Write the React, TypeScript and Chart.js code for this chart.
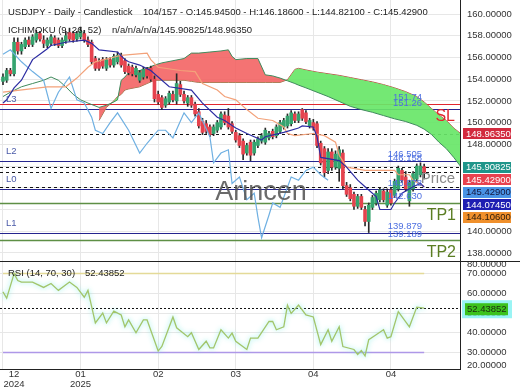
import React, { useEffect, useRef } from 'react';
import { Chart, registerables } from 'chart.js';

Chart.register(...registerables);

const FONT = '"Liberation Sans", Arial, Helvetica, sans-serif';

// ---- OHLC (one per daily bar) ----
const opens = [
  153.8,153.9,154.8,154.5,157.4,156.6,157.0,157.6,157.2,157.6,
  158.2,157.6,157.1,157.3,157.8,157.6,157.1,157.5,158.3,158.2,
  157.7,157.9,158.2,157.6,157.4,155.9,155.6,155.8,155.0,155.8,
  155.3,155.6,156.2,155.7,155.2,155.1,154.4,153.9,154.2,154.9,
  155.0,154.0,152.6,152.3,151.6,151.9,152.6,152.0,153.5,152.6,
  151.8,152.3,151.7,151.0,150.1,149.9,149.6,149.0,149.3,149.6,
  150.7,150.6,149.9,149.1,148.8,148.3,147.2,148.2,147.2,147.9,
  148.3,148.2,148.6,149.2,148.8,149.2,149.6,149.7,149.9,150.8,
  150.2,151.2,150.9,149.7,150.0,149.9,148.1,147.6,145.6,147.3,
  145.9,145.8,147.2,144.2,144.0,143.4,142.3,143.2,142.0,140.9,
  142.2,142.6,142.9,143.7,142.4,143.8,143.3,143.9,145.6,145.0,
  142.8,143.9,144.8,145.2,145.945,
];
const highs = [
  154.5,155.0,155.0,157.8,157.8,157.4,157.8,157.9,158.1,158.5,
  158.4,158.0,157.8,158.1,158.0,157.8,157.8,158.4,158.7,158.4,
  158.4,158.8,158.5,157.9,157.6,156.1,155.9,156.0,156.0,156.0,
  156.3,156.5,156.4,155.9,155.4,155.3,155.2,154.8,155.1,155.1,
  155.2,154.3,152.9,152.5,152.4,152.9,152.9,154.5,153.8,152.9,
  152.5,152.5,151.9,151.3,150.4,150.2,149.8,149.8,150.2,151.0,
  151.0,151.3,150.1,149.3,149.0,148.5,148.1,148.4,148.4,148.7,
  149.0,149.5,149.2,149.4,149.8,150.2,150.4,150.8,151.1,151.0,
  151.0,151.3,151.1,150.4,150.3,150.1,148.3,147.8,147.6,147.6,
  147.4,147.8,147.5,144.5,144.3,143.6,143.4,143.4,142.3,142.6,
  143.3,143.7,144.0,143.9,143.9,144.0,144.8,146.0,145.8,145.5,
  144.7,145.5,146.2,146.3,146.186,
];
const lows = [
  153.5,153.7,154.3,154.3,156.3,156.3,156.8,157.0,157.0,157.4,
  157.5,156.9,156.9,157.1,157.1,156.9,156.9,157.3,157.5,157.4,
  157.5,157.7,157.4,157.0,155.4,154.8,154.8,155.0,154.8,155.1,
  155.1,155.4,155.1,154.5,154.4,154.3,154.2,153.7,154.0,154.1,
  153.8,151.9,151.7,151.2,151.4,151.7,151.9,151.7,152.4,151.8,
  151.5,151.4,150.6,149.5,148.9,149.0,148.7,148.8,149.1,149.4,
  149.8,149.4,149.0,148.2,147.7,146.6,147.0,146.5,147.0,147.7,
  148.1,148.0,148.4,148.5,148.6,149.0,149.4,149.5,149.7,150.0,
  150.0,150.2,149.9,149.5,149.3,147.7,146.1,145.0,145.3,145.6,
  145.7,144.6,143.9,143.2,142.8,142.0,142.1,142.0,140.5,139.88,
  142.0,142.4,142.7,142.7,142.2,142.4,143.1,143.7,144.5,143.7,
  142.3,143.7,144.6,145.0,144.821,
];
const closes = [
  154.2,154.8,154.5,157.4,156.6,157.2,157.6,157.2,157.9,158.2,
  157.7,157.3,157.6,157.9,157.3,157.1,157.6,158.0,157.7,157.6,
  158.2,158.4,157.6,157.2,155.6,155.0,155.0,155.2,155.8,155.3,
  156.1,156.2,155.3,154.7,154.6,154.5,155.0,154.6,154.9,154.3,
  154.0,152.2,151.9,151.4,152.2,152.7,152.1,153.6,152.6,152.0,
  152.3,151.6,150.8,149.7,149.1,149.2,148.9,149.6,150.0,150.8,
  150.0,149.6,149.2,148.4,147.9,147.1,147.9,147.0,148.2,148.5,
  148.8,149.3,149.0,148.7,149.6,150.0,150.2,150.6,150.9,150.2,
  150.8,150.4,150.1,150.2,149.5,147.9,146.3,145.4,147.3,145.9,
  147.1,147.5,144.2,143.4,143.0,142.3,143.2,142.2,140.9,142.4,
  143.1,143.5,143.8,142.9,143.6,142.6,144.6,145.8,144.7,143.9,
  144.5,145.3,146.0,146.0,145.429,
];

// ---- Ichimoku lines, read as [bar, value] ----
const tenkan = [
  [0,151.8],[1,152.1],[3,153.2],[5,153.9],[8,155.8],[10,156.3],[12,156.8],[13,157.1],
  [17,157.4],[22,157.6],[24,157.3],[26,156.7],[31,156.5],[33,155.8],[34,155.6],[37,155.3],
  [40,154.8],[45,153.3],[51,153.0],[54,151.8],[58,150.5],[60,150.2],[63,149.5],[66,149.0],
  [70,148.4],[71,148.7],[76,149.1],[80,149.5],[81,149.7],[84,149.6],[85,148.7],[86,146.8],
  [91,146.5],[93,145.9],[96,144.7],[98,144.1],[101,143.2],[102,142.0],[105,142.0],[106,142.6],
  [108,143.5],[111,144.1],[113,144.4],[114,144.0745],
];
const kijun = [
  [0,152.8],[12,153.3],[17,153.3],[20,154.1],[23,155.1],[25,155.6],[32,156.2],[39,156.4],
  [40,155.8],[42,155.1],[48,154.8],[52,154.7],[54,153.6],[58,153.0],[60,152.4],[63,152.1],
  [66,151.2],[69,150.4],[73,150.2],[76,149.6],[77,149.0],[79,148.8],[84,149.0],[87,148.8],
  [90,148.2],[91,147.0],[93,145.9],[98,145.6],[106,145.6],[107,145.2],[110,145.2],[111,144.7],
  [114,144.106],
];
const lagging = [
  [0,156.3],[2,156.7],[5,155.6],[8,154.7],[11,153.9],[13,151.3],[15,152.8],[18,154.2],
  [20,152.1],[22,151.8],[24,150.5],[25,149.3],[27,149.0],[29,150.0],[31,150.9],[34,149.3],
  [37,147.2],[39,148.1],[42,149.3],[44,149.3],[46,148.6],[49,150.9],[51,150.0],[53,150.9],
  [56,148.7],[57,146.3],[59,147.2],[61,147.5],[62,144.4],[64,145.0],[66,142.9],[68,143.5],
  [69,141.3],[70,139.4],[72,141.5],[73,142.6],[75,142.2],[78,145.0],[80,144.7],[82,145.6],
  [84,145.9],[86,145.2],[88,144.7],
];
const cloudBars = [
  0,2,5,8,11,13,15,17,19,21,23,26,28,30,31,32,33,34,37,39,41,43,46,49,51,53,56,59,61,62,63,66,
  69,71,73,75,77,79,80,82,85,88,91,94,97,100,103,106,109,112,114,116,118,120,122,124,
];
const spanA = [
  152.4,152.8,153.3,153.6,153.9,154.2,153.9,153.3,152.6,152.1,151.8,151.4,151.6,151.9,152.1,153.9,
  154.2,154.6,154.8,155.0,155.3,155.5,155.7,155.9,156.4,156.4,156.5,156.6,156.7,156.1,155.8,155.9,
  155.9,154.4,154.3,154.1,153.85,153.6,153.45,153.2,152.8,152.4,151.95,151.5,151.2,150.95,150.65,150.35,
  150.1,149.75,149.4,148.9,148.2,147.6,146.8,145.90825,
];
const spanB = [
  null,null,null,null,null,null,null,null,null,null,null,150.2,151.4,152.0,152.4,152.6,
  153.0,153.1,153.3,153.6,153.9,153.9,153.9,153.9,153.8,153.7,153.7,153.7,153.7,153.7,153.7,153.7,
  153.7,153.7,153.7,153.7,153.95,154.9,155.0,154.85,154.65,154.5,154.35,154.15,153.95,153.75,153.5,153.2,
  152.85,152.4,151.9,151.3,150.7,150.2,149.5,148.9635,
];

// ---- RSI (14), read as [bar, value] ----
const rsi = [
  [0,60.7],[1,57.5],[3,70],[4,66.5],[5,65.7],[8,65.7],[11,63],[13,65],[15,61.5],[18,65.7],
  [20,63],[22,58],[23,61.5],[25,45],[27,50],[28,45],[30,51],[32,49],[33,43],[34,46.5],
  [36,40],[38,46.5],[39,46.5],[42,30.7],[43,33],[46,48],[47,42.5],[50,38],[51,40],[53,31.5],
  [55,35.7],[56,32.3],[57,32.3],[59,41.5],[61,37.3],[62,39.8],[63,35.7],[66,31.5],[67,37.3],
  [69,37.3],[72,45.7],[73,45.7],[74,41.5],[76,43],[77,54],[78,49.8],[80,54],[82,49],[84,48],
  [86,34],[88,41.5],[89,35.7],[91,43],[92,33],[95,31.5],[96,29],[97,31],[98,28.2],[99,36.5],
  [101,39],[103,41.5],[104,37.3],[105,38],[107,50.7],[110,43],[112,53],[114,52.43852],
];
const rsiBands = [70, 30];
const rsiNow = 52.43852;

// ---- levels ----
const slLevel = 151.74;
const lLevels = [151.26, 146.505, 143.878, 139.879];
const lNames = ['L3', 'L2', 'L0', 'L1'];
const tpLevels = [142.63, 139.189];
const tpNames = ['TP1', 'TP2'];
const currentLevels = [148.9635, 145.90825, 145.429, 144.106];
const levelTags = [151.74, 151.26, 146.505, 146.158, 143.878, 142.63, 139.879, 139.189];
const levelTagText = ['151.74', '151.26', '146.505', '146.158', '143.878', '142.630', '139.879', '139.189'];

// ---- axes ----
const priceTicks = [138, 140, 142, 144, 146, 148, 150, 152, 154, 156, 158, 160];
const hiddenPriceTicks = [142, 144, 146];
const rsiTicks = [30, 40, 50, 60, 70];
const xTickBars = [0, 21, 42, 63, 84, 105];
const xTickLabels = [['12', '2024'], ['01', '2025'], ['02'], ['03'], ['04'], ['04']];
const boxValues = [148.9635, 145.90825, 145.429, 145.429, 144.0745, 144.106];
const boxBg = ['#d22a3e', '#1f958a', '#e8424f', '#4a94e6', '#1e1eb2', '#f0902c'];
const boxFg = ['#ffffff', '#ffffff', '#ffffff', '#14143a', '#ffffff', '#2a1a0a'];

const UP = '#35a46f';
const DOWN = '#e5434e';

const overlay = {
  id: 'overlay',
  beforeDatasetsDraw(chart: any) {
    const { ctx, chartArea: ca } = chart;
    const y = chart.scales.y;
    const yr = chart.scales.yr;
    const hline = (p: number, color: string, dash: number[], w = 1, x1 = ca.right) => {
      const py = Math.round(p) + 0.5;
      ctx.save();
      ctx.strokeStyle = color;
      ctx.lineWidth = w;
      ctx.setLineDash(dash);
      ctx.beginPath();
      ctx.moveTo(ca.left, py);
      ctx.lineTo(x1, py);
      ctx.stroke();
      ctx.restore();
    };
    tpLevels.forEach((v) => hline(y.getPixelForValue(v), '#5e8f45', [], 1.3));
    lLevels.forEach((v) => hline(y.getPixelForValue(v), '#25258e', [], 1.2));
    hline(y.getPixelForValue(slLevel), '#e2262f', [], 1.2);
    currentLevels.forEach((v) => hline(y.getPixelForValue(v), '#111111', [3, 3]));
    hline(yr.getPixelForValue(rsiNow), '#111111', [2, 2]);
  },
  beforeDatasetDraw(chart: any, args: any) {
    if (args.index === 7) {
      chart.ctx.save();
      chart.ctx.shadowColor = 'rgba(110,235,225,0.9)';
      chart.ctx.shadowBlur = 5;
    }
  },
  afterDatasetDraw(chart: any, args: any) {
    if (args.index === 7) {
      chart.ctx.restore();
    }
  },
  afterDraw(chart: any) {
    const { ctx, chartArea: ca } = chart;
    const y = chart.scales.y;
    const yr = chart.scales.yr;
    const x = chart.scales.x;
    ctx.save();
    ctx.strokeStyle = '#222';
    ctx.lineWidth = 1;
    ctx.beginPath();
    ctx.moveTo(0, Math.round(y.bottom) + 0.5);
    ctx.lineTo(chart.width, Math.round(y.bottom) + 0.5);
    ctx.stroke();

    const f = (s: number) => `${s}px ${FONT}`;
    ctx.textBaseline = 'middle';

    ctx.font = f(9.5);
    ctx.fillStyle = '#4d6fe0';
    ctx.textAlign = 'right';
    levelTags.forEach((v, i) => {
      ctx.fillText(levelTagText[i], 422, y.getPixelForValue(v) - 6);
    });
    ctx.textAlign = 'left';
    ctx.fillStyle = '#4a5aa8';
    lLevels.forEach((v, i) => ctx.fillText(lNames[i], 6, y.getPixelForValue(v) - 9.5));

    ctx.textAlign = 'right';
    ctx.font = f(16);
    ctx.fillStyle = '#e2262f';
    ctx.fillText('SL', 455, y.getPixelForValue(slLevel) + 13);
    ctx.fillStyle = '#5a7d22';
    tpLevels.forEach((v, i) => ctx.fillText(tpNames[i], 456, y.getPixelForValue(v) + 12.5));
    ctx.font = f(15);
    ctx.fillStyle = '#8a8a8a';
    ctx.fillText('Price', 455, 179);

    ctx.textAlign = 'center';
    ctx.font = f(27);
    ctx.fillStyle = 'rgba(80,80,80,0.85)';
    ctx.fillText('Arincen', 261, 193);

    ctx.textAlign = 'left';
    ctx.font = f(9.5);
    ctx.fillStyle = '#222';
    ctx.fillText('USDJPY - Daily - Candlestick', 8, 12.5);
    ctx.fillText('104/157 - O:145.94500 - H:146.18600 - L:144.82100 - C:145.42900', 143, 12.5);
    ctx.fillText('ICHIMOKU (9, 26, 52)', 8, 30);
    ctx.fillText('n/a/n/a/n/a/145.90825/148.96350', 112, 30);
    ctx.fillText('RSI (14, 70, 30)', 8, 273);
    ctx.fillText('52.43852', 85, 273);

    ctx.fillStyle = '#333';
    ctx.textAlign = 'center';
    xTickBars.forEach((b, i) => {
      const px = i === 0 ? Math.max(x.getPixelForValue(b), 14) : x.getPixelForValue(b);
      xTickLabels[i].forEach((t, j) => ctx.fillText(t, px, 374.5 + j * 10));
    });

    ctx.textAlign = 'left';
    ctx.save();
    ctx.beginPath();
    ctx.rect(ca.right + 1, y.bottom + 1, 60, 20);
    ctx.clip();
    ctx.fillText('80.00000', 467, 264);
    ctx.restore();
    ctx.fillText('20.00000', 467, 365);

    let prev = -Infinity;
    boxValues.forEach((v, i) => {
      let cy = y.getPixelForValue(v);
      if (i > 0) cy = Math.max(cy, prev + 12.5);
      prev = cy;
      ctx.fillStyle = boxBg[i];
      ctx.fillRect(ca.right + 3, Math.round(cy - 5.5), 48, 11);
      ctx.fillStyle = boxFg[i];
      ctx.fillText(v.toFixed(5), ca.right + 6, cy + 0.5);
    });
    const ry = yr.getPixelForValue(rsiNow) + 1;
    ctx.fillStyle = 'rgba(120,240,240,0.75)';
    ctx.fillRect(ca.right + 2, ry - 9, 50, 18);
    ctx.fillStyle = '#3cc21c';
    ctx.fillRect(ca.right + 5, ry - 6, 43, 12);
    ctx.fillStyle = '#1a2a10';
    ctx.fillText(rsiNow.toFixed(5), ca.right + 7, ry + 0.5);
    ctx.restore();
  },
};

export default function App() {
  const ref = useRef<HTMLCanvasElement>(null);
  useEffect(() => {
    const canvas = ref.current;
    if (!canvas) return;
    const bars = closes.map((_, i) => i);
    const bodyData = bars.map((i) => ({ x: i, y: [Math.min(opens[i], closes[i]), Math.max(opens[i], closes[i])] }));
    const wickData = bars.map((i) => ({ x: i, y: [lows[i], highs[i]] }));
    const bodyColors = bars.map((i) => (closes[i] >= opens[i] ? UP : DOWN));
    const pts = (a: number[][]) => a.map(([b, v]) => ({ x: b, y: v }));
    const last = closes.length - 1;

    const chart = new Chart(canvas, {
      type: 'bar',
      data: {
        datasets: [
          { type: 'line', data: pts(tenkan), borderColor: '#2c2ca2', borderWidth: 1.2, pointRadius: 0, order: 1, yAxisID: 'y' } as any,
          { type: 'line', data: pts(kijun), borderColor: '#f3a27a', borderWidth: 1.2, pointRadius: 0, order: 1, yAxisID: 'y' } as any,
          { type: 'line', data: pts(lagging), borderColor: '#6fb0e2', borderWidth: 1.2, pointRadius: 0, order: 1, yAxisID: 'y' } as any,
          { type: 'bar', data: bodyData, backgroundColor: bodyColors, borderWidth: 0, barThickness: 3, grouped: false, order: 2, yAxisID: 'y' } as any,
          { type: 'bar', data: wickData, backgroundColor: '#2a2a2a', borderWidth: 0, barThickness: 1, grouped: false, order: 3, yAxisID: 'y' } as any,
          {
            type: 'line', data: cloudBars.map((b, i) => ({ x: b, y: spanA[i] })), borderColor: '#3f8a5c', borderWidth: 1,
            pointRadius: 0, order: 4, yAxisID: 'y',
            fill: { target: 6, above: 'rgba(242,96,96,0.88)', below: 'rgba(104,230,104,0.92)' },
          } as any,
          { type: 'line', data: cloudBars.map((b, i) => ({ x: b, y: spanB[i] })), borderColor: '#b0584a', borderWidth: 1, pointRadius: 0, order: 4, yAxisID: 'y', spanGaps: false } as any,
          { type: 'line', data: pts(rsi), borderColor: '#a2c56a', borderWidth: 1.3, pointRadius: 0, order: 1, yAxisID: 'yr' } as any,
          { type: 'line', data: [{ x: 0, y: rsiBands[0] }, { x: last, y: rsiBands[0] }], borderColor: '#e4da98', borderWidth: 1.5, pointRadius: 0, order: 5, yAxisID: 'yr' } as any,
          { type: 'line', data: [{ x: 0, y: rsiBands[1] }, { x: last, y: rsiBands[1] }], borderColor: '#ae98e8', borderWidth: 1.5, pointRadius: 0, order: 5, yAxisID: 'yr' } as any,
        ],
      },
      options: {
        responsive: false,
        animation: false,
        devicePixelRatio: 1,
        events: [],
        layout: { padding: 0 },
        plugins: { legend: { display: false }, tooltip: { enabled: false } },
        scales: {
          x: {
            type: 'linear', min: -0.81, max: 123.7, offset: false,
            grid: { color: '#e7e7e7', drawTicks: false, offset: false },
            border: { display: true, color: '#222' },
            ticks: { display: false },
            afterBuildTicks: (s: any) => { s.ticks = xTickBars.map((v) => ({ value: v })); },
            afterFit: (s: any) => { s.height = 21; s.paddingLeft = 0; s.paddingRight = 0; },
          },
          y: {
            type: 'linear', position: 'right', stack: 'panes', stackWeight: 261,
            min: 137.26, max: 161.29, beginAtZero: false,
            grid: { color: '#e7e7e7', drawTicks: false },
            border: { display: true, color: '#222' },
            ticks: {
              autoSkip: false, padding: 7, color: '#333', font: { family: FONT, size: 9.5 },
              callback: (v: any) => (hiddenPriceTicks.includes(Number(v)) ? '' : Number(v).toFixed(5)),
            },
            afterBuildTicks: (s: any) => { s.ticks = priceTicks.map((v) => ({ value: v })); },
            afterFit: (s: any) => { s.width = 60; s.paddingTop = 0; s.paddingBottom = 0; },
          },
          yr: {
            type: 'linear', position: 'right', stack: 'panes', stackWeight: 108,
            min: 21.6, max: 76.4, beginAtZero: false,
            grid: { color: '#e7e7e7', drawTicks: false },
            border: { display: true, color: '#222' },
            ticks: {
              autoSkip: false, padding: 7, color: '#333', font: { family: FONT, size: 9.5 },
              callback: (v: any) => Number(v).toFixed(5),
            },
            afterBuildTicks: (s: any) => { s.ticks = rsiTicks.map((v) => ({ value: v })); },
            afterFit: (s: any) => { s.width = 60; s.paddingTop = 0; s.paddingBottom = 0; },
          },
        },
      } as any,
      plugins: [overlay],
    });
    return () => chart.destroy();
  }, []);
  return (
    <div style={{ position: 'fixed', left: 0, top: 0, width: 520, height: 390, background: '#fff' }}>
      <canvas ref={ref} width={520} height={390} style={{ display: 'block', width: 520, height: 390 }} />
    </div>
  );
}
